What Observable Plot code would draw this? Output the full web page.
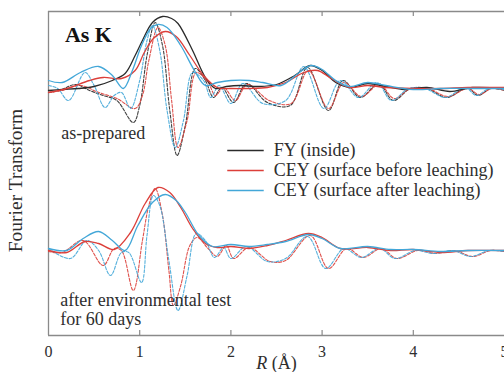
<!DOCTYPE html>
<html><head><meta charset="utf-8">
<script src="https://cdn.jsdelivr.net/npm/d3@7"></script>
<script src="https://cdn.jsdelivr.net/npm/@observablehq/plot@0.6"></script>
<style>
body{margin:0;background:#fff}
#chart svg, #chart svg text { font-family: "Liberation Serif", "DejaVu Serif", serif !important; }
</style>
</head><body><div id="chart"></div>
<script>
// Tick labels
const X_TICKS = [0, 1, 2, 3, 4, 5];
// Series names
const SERIES = ["FY (inside)", "CEY (surface before leaching)", "CEY (surface after leaching)"];
// Panel labels
const PANELS = ["as-prepared", "after environmental test\nfor 60 days"];
// Vertical stacking offsets (arbitrary units) for the two panels
const OFFSET_TOP = 245, OFFSET_BOTTOM = 85;

// ---- as-prepared: magnitude (solid) ----
const prepFYmag = [[0,0],[0.15,1],[0.33,2],[0.5,4],[0.7,10],[0.84,17],[0.95,35],[1.03,50],[1.14,68],[1.25,74],[1.35,72],[1.42,67],[1.58,40],[1.72,13],[1.83,2],[1.95,4],[2.1,5],[2.3,4],[2.5,6],[2.7,15],[2.87,25],[3.0,20],[3.15,8],[3.3,3],[3.5,7],[3.7,4],[3.9,1],[4.15,3],[4.4,-1],[4.65,3],[5.0,2]];
const prepCEYbMag = [[0,-2],[0.2,2],[0.45,10],[0.6,13],[0.8,12],[0.95,20],[1.05,38],[1.15,52],[1.28,59],[1.4,54],[1.55,35],[1.7,15],[1.85,3],[2.0,2],[2.2,2],[2.4,3],[2.6,8],[2.8,18],[2.95,20],[3.1,12],[3.3,3],[3.5,5],[3.7,3],[4.0,2],[4.3,2],[4.6,3],[5.0,3]];
const prepCEYaMag = [[0,10],[0.15,8],[0.35,18],[0.55,24],[0.7,15],[0.82,2],[0.92,20],[1.02,45],[1.12,62],[1.2,66],[1.3,63],[1.45,45],[1.6,20],[1.72,5],[1.85,8],[2.0,10],[2.2,10],[2.35,8],[2.55,5],[2.75,18],[2.88,25],[3.0,21],[3.15,10],[3.3,4],[3.5,8],[3.7,5],[4.0,1],[4.3,2],[4.6,2],[5.0,2]];
// ---- as-prepared: imaginary part (dashed) ----
const prepFYim = [[0,-2],[0.12,0],[0.3,6],[0.45,0],[0.6,-5],[0.75,-10],[0.93,-32],[1.0,-15],[1.08,35],[1.17,68],[1.25,45],[1.33,-20],[1.41,-65],[1.5,-35],[1.61,22],[1.72,10],[1.81,-7],[1.9,3],[2.03,-12],[2.17,7],[2.4,-12],[2.65,-15],[2.84,23],[3.07,-20],[3.23,10],[3.42,-7],[3.62,7],[3.78,-10],[3.97,2],[4.15,2],[4.37,-7],[4.59,3],[4.71,-5],[4.85,2],[5.0,0]];
const prepCEYbIm = [[0,-2],[0.15,0],[0.35,5],[0.55,-2],[0.75,-8],[0.95,-18],[1.03,-5],[1.1,30],[1.2,63],[1.28,45],[1.35,-10],[1.42,-57],[1.52,-30],[1.62,18],[1.75,8],[1.83,-5],[1.92,3],[2.05,-10],[2.18,6],[2.42,-10],[2.66,-13],[2.85,20],[3.07,-18],[3.24,8],[3.43,-6],[3.63,6],[3.79,-8],[3.97,2],[4.16,2],[4.38,-6],[4.6,2],[4.72,-4],[4.86,2],[5.0,0]];
const prepCEYaIm = [[0,5],[0.1,2],[0.22,-10],[0.4,18],[0.5,5],[0.62,-17],[0.72,-5],[0.8,-2],[0.9,-18],[1.0,10],[1.08,50],[1.14,65],[1.22,40],[1.3,-20],[1.39,-57],[1.48,-30],[1.58,18],[1.7,10],[1.78,-7],[1.87,5],[2.0,-13],[2.13,7],[2.35,-13],[2.6,-10],[2.8,24],[3.02,-18],[3.2,10],[3.4,-7],[3.6,8],[3.76,-10],[3.95,2],[4.13,2],[4.35,-7],[4.57,3],[4.69,-5],[4.83,2],[5.0,1]];

// ---- after environmental test: magnitude (solid) ----
const envCEYbMag = [[0,0],[0.2,-2],[0.4,9],[0.55,7],[0.72,1],[0.9,18],[1.06,47],[1.2,63],[1.33,58],[1.45,43],[1.58,22],[1.72,7],[1.85,3],[2.0,4],[2.2,2],[2.4,5],[2.6,10],[2.85,17],[3.0,13],[3.2,2],[3.5,3],[3.75,0],[4.0,1],[4.3,-2],[4.6,0],[5.0,0]];
const envCEYaMag = [[0,2],[0.2,0],[0.38,12],[0.55,19],[0.7,10],[0.84,0],[0.98,25],[1.14,48],[1.28,56],[1.4,50],[1.5,38],[1.65,15],[1.8,4],[2.0,6],[2.2,4],[2.4,6],[2.6,9],[2.85,16],[3.0,12],[3.2,2],[3.5,4],[3.75,1],[4.0,1],[4.3,-1],[4.6,0],[5.0,0]];
// ---- after environmental test: imaginary part (dashed) ----
const envCEYbIm = [[0,-1],[0.15,-2],[0.38,10],[0.6,-15],[0.72,2],[0.8,0],[0.93,-40],[1.03,10],[1.1,45],[1.17,62],[1.25,35],[1.32,-20],[1.37,-55],[1.45,-35],[1.55,5],[1.63,13],[1.75,2],[1.85,-6],[1.95,5],[2.03,-8],[2.2,3],[2.43,-11],[2.6,-10],[2.87,15],[3.07,-18],[3.27,2],[3.45,-7],[3.65,2],[3.82,-8],[4.05,0],[4.25,-3],[4.45,0],[4.65,-6],[4.85,0],[5.0,-1]];
const envCEYaIm = [[0,2],[0.24,-8],[0.42,10],[0.55,0],[0.68,-25],[0.8,-2],[0.88,-2],[1.02,-32],[1.08,15],[1.15,55],[1.22,45],[1.32,-10],[1.42,-60],[1.52,-25],[1.62,17],[1.72,10],[1.82,-7],[1.92,3],[2.0,-8],[2.17,4],[2.4,-11],[2.6,-8],[2.84,14],[3.04,-18],[3.24,2],[3.43,-7],[3.63,2],[3.8,-8],[4.02,0],[4.22,-3],[4.43,0],[4.63,-6],[4.83,0],[5.0,-1]];

const COLORS = ["#2b2b2b", "#dc3f3a", "#43a7d8"];

function rows(arr, off, series, part) {
  return arr.map(([r, v]) => ({R: r, y: v + off, series, part}));
}
const solid = [
  ...rows(prepFYmag, OFFSET_TOP, 0, "a"), ...rows(prepCEYbMag, OFFSET_TOP, 1, "a"), ...rows(prepCEYaMag, OFFSET_TOP, 2, "a"),
  ...rows(envCEYbMag, OFFSET_BOTTOM, 1, "b"), ...rows(envCEYaMag, OFFSET_BOTTOM, 2, "b")
];
const dashed = [
  ...rows(prepFYim, OFFSET_TOP, 0, "a"), ...rows(prepCEYbIm, OFFSET_TOP, 1, "a"), ...rows(prepCEYaIm, OFFSET_TOP, 2, "a"),
  ...rows(envCEYbIm, OFFSET_BOTTOM, 1, "b"), ...rows(envCEYaIm, OFFSET_BOTTOM, 2, "b")
];
const zKey = d => d.part + d.series;

const legend = SERIES.map((s, i) => ({label: s, i, y: 185 - i * 20}));
const frameColor = "#8a8a8a";
const textColor = "#2e2e2e";
const SERIF = "Liberation Serif";

const svg = Plot.plot({
  width: 504, height: 372,
  marginLeft: 48, marginRight: 0, marginTop: 11, marginBottom: 37,
  x: {domain: [0, 5]},
  y: {domain: [0, 324], axis: null},
  style: {fontFamily: SERIF, background: "white", color: textColor},
  marks: [
    Plot.axisX({ticks: X_TICKS, tickSize: 0, tickPadding: 10, fontSize: 16, fontFamily: SERIF, label: null, tickFormat: d => String(d)}),
    Plot.ruleY([0, 324], {stroke: frameColor, strokeWidth: 1.3}),
    Plot.ruleX([0], {y1: 0, y2: 324, stroke: frameColor, strokeWidth: 1.3}),
    Plot.ruleX(X_TICKS.slice(1, 5), {y1: 0, y2: 5, stroke: frameColor, strokeWidth: 1.2}),
    Plot.ruleX(X_TICKS.slice(1, 5), {y1: 319, y2: 324, stroke: frameColor, strokeWidth: 1.2}),
    Plot.line(dashed, {x: "R", y: "y", z: zKey, stroke: d => COLORS[d.series], strokeWidth: 1.1, strokeDasharray: "3,1.6", curve: "catmull-rom", strokeOpacity: 0.9}),
    Plot.line(solid, {x: "R", y: "y", z: zKey, stroke: d => COLORS[d.series], strokeWidth: 1.3, curve: "catmull-rom"}),
    Plot.link(legend, {x1: 1.96, x2: 2.36, y1: "y", y2: "y", stroke: d => COLORS[d.i], strokeWidth: 1.4}),
    Plot.text(legend, {x: 2.47, y: "y", text: "label", textAnchor: "start", fontSize: 18, fontFamily: SERIF, fill: textColor}),
    Plot.text(["As K"], {x: 0.18, y: 301, text: d => d, textAnchor: "start", fontSize: 22, fontWeight: "bold", fontFamily: SERIF, fill: "#111"}),
    Plot.text([PANELS[0]], {x: 0.14, y: 202, text: d => d, textAnchor: "start", fontSize: 18, fontFamily: SERIF, fill: textColor}),
    Plot.text([PANELS[1]], {x: 0.13, y: 26, text: d => d, textAnchor: "start", lineAnchor: "middle", lineHeight: 1.05, fontSize: 18, fontFamily: SERIF, fill: textColor}),
    Plot.text(["Fourier Transform"], {x: 0, y: 155, dx: -33, rotate: -90, text: d => d, fontSize: 19.5, fontFamily: SERIF, fill: textColor}),
    Plot.text(["R (Å)"], {frameAnchor: "bottom", dy: 33, text: d => d, fontSize: 18, fontFamily: SERIF, fill: textColor, className: "xlabel"})
  ]
});
// italic R in the axis label
const t = d3.select(svg).select(".xlabel text");
t.text(null);
t.append("tspan").attr("font-style", "italic").text("R");
t.append("tspan").text(" (Å)");
document.getElementById("chart").appendChild(svg);
</script>
</body></html>
